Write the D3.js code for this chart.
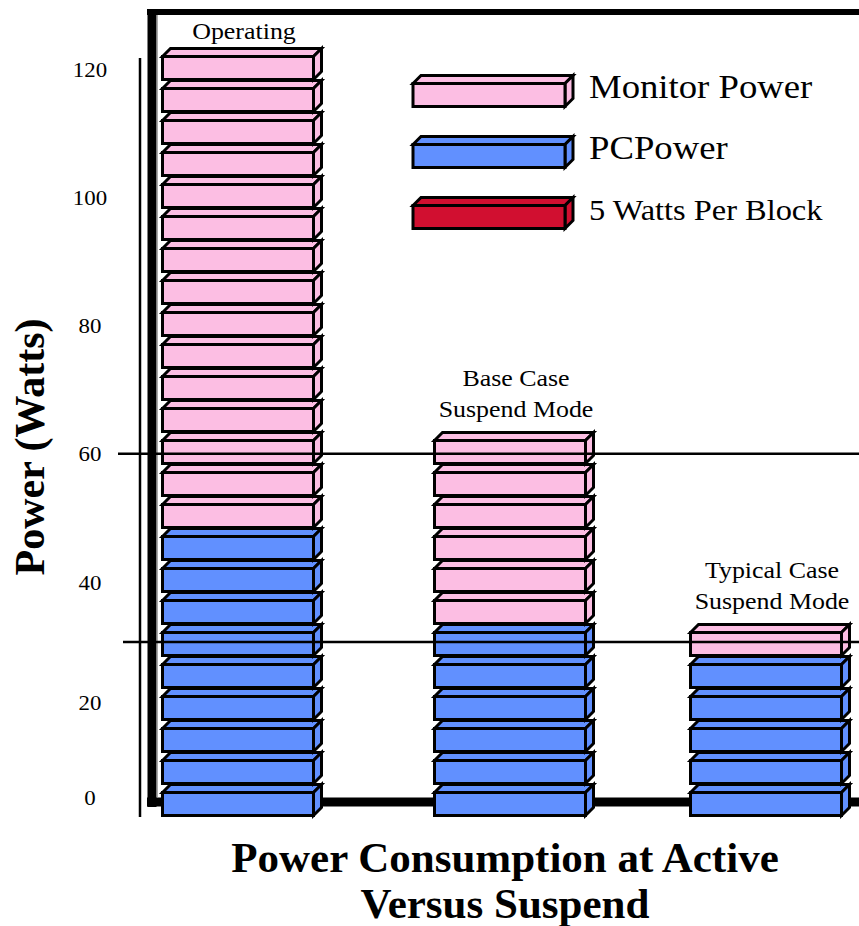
<!DOCTYPE html>
<html>
<head>
<meta charset="utf-8">
<script src="https://cdn.jsdelivr.net/npm/d3@7"></script>
<style>
  body { margin: 0; background: #fff; }
  text { font-family: "Liberation Serif", "Times New Roman", serif; fill: #000; }
</style>
</head>
<body>
<div id="chart"></div>
<script>
// chart values
const categories = ["Operating", "Base Case", "Typical Case"];
const categoryLines = [["Operating"], ["Base Case", "Suspend Mode"], ["Typical Case", "Suspend Mode"]];
const pcPower = [45, 30, 25];
const monitorPower = [75, 30, 5];
const wattsPerBlock = 5;
const tickValues = [0, 20, 40, 60, 80, 100, 120];
const referenceLines = [60, 30];
const legendLabels = ["Monitor Power", "PCPower", "5 Watts Per Block"];

const svgWidth = 859;
const svgHeight = 926;
const pink = "#fcbee3";
const blue = "#6190ff";
const red = "#d10f30";
const legendColors = [pink, blue, red];
// regular text in the picture is a bit wider than Liberation Serif
const widen = 1.08;

const svg = d3.select("#chart")
  .append("svg")
  .attr("width", svgWidth)
  .attr("height", svgHeight);

function wideText(g, x, y, str, size, anchor) {
  return g.append("text")
    .attr("transform", `translate(${x},${y}) scale(${widen},1)`)
    .attr("text-anchor", anchor)
    .attr("font-size", size)
    .text(str);
}

// scales
const x = d3.scaleOrdinal().domain(categories).range([238, 510, 766]);
const colWidth = 151;
const yBlock = d3.scaleLinear().domain([0, 120]).range([815.5, 47.5]);
// the tick labels on the original are not evenly spaced
const yLabel = d3.scaleLinear().domain([0, 20, 40, 120]).range([797, 702, 582, 69]);

const depth = 8;
const frontH = 23;

function drawBlock(g, x0, x1, yBot, fill) {
  const yTop = yBot - frontH;
  const b = g.append("g")
    .attr("fill", fill)
    .attr("stroke", "#000")
    .attr("stroke-width", 3)
    .attr("stroke-linejoin", "miter");
  b.append("path")
    .attr("d", `M${x0},${yTop}L${x0 + depth},${yTop - depth}L${x1 + depth},${yTop - depth}L${x1},${yTop}Z`);
  b.append("path")
    .attr("d", `M${x1},${yTop}L${x1 + depth},${yTop - depth}L${x1 + depth},${yBot - depth}L${x1},${yBot}Z`);
  b.append("rect")
    .attr("x", x0).attr("y", yTop)
    .attr("width", x1 - x0).attr("height", frontH);
}

// frame
const frame = svg.append("g").attr("stroke", "#000");
frame.append("line").attr("x1", 152).attr("x2", 152).attr("y1", 9).attr("y2", 807).attr("stroke-width", 9);
frame.append("line").attr("x1", 147).attr("x2", svgWidth).attr("y1", 12).attr("y2", 12).attr("stroke-width", 6);
frame.append("line").attr("x1", 147).attr("x2", svgWidth).attr("y1", 802).attr("y2", 802).attr("stroke-width", 9);
frame.append("line").attr("x1", 157.5).attr("x2", 157.5).attr("y1", 15).attr("y2", 797)
  .attr("stroke", "#aaa").attr("stroke-width", 1);

// thin axis line
svg.append("line")
  .attr("x1", 140).attr("x2", 140)
  .attr("y1", 58).attr("y2", 817)
  .attr("stroke", "#000").attr("stroke-width", 2.5);

// y axis labels
const yAxis = svg.append("g")
  .attr("transform", "translate(90,0)")
  .call(d3.axisLeft(yLabel).tickValues(tickValues).tickSize(0).tickPadding(0));
yAxis.select(".domain").remove();
yAxis.selectAll("text")
  .attr("x", 0)
  .attr("text-anchor", "middle")
  .attr("font-family", "Liberation Serif, Times New Roman, serif")
  .attr("font-size", 22)
  .attr("transform", "scale(1.04,1)");

// stacked blocks
categories.forEach((c, ci) => {
  const g = svg.append("g");
  const x0 = x(c) - colWidth / 2;
  const x1 = x(c) + colWidth / 2;
  const nPc = pcPower[ci] / wattsPerBlock;
  const nMon = monitorPower[ci] / wattsPerBlock;
  for (let i = 0; i < nPc + nMon; i++) {
    drawBlock(g, x0, x1, yBlock(i * wattsPerBlock), i < nPc ? blue : pink);
  }
  const top = yBlock(pcPower[ci] + monitorPower[ci]) + 1;
  const lastBase = Math.max(top - 16, 39);
  const lines = categoryLines[ci];
  lines.forEach((t, li) => {
    wideText(svg, x(c) + 6, lastBase - (lines.length - 1 - li) * 31, t, 24, "middle");
  });
});

// reference lines at the suspend totals
svg.selectAll(".ref")
  .data(referenceLines)
  .enter()
  .append("line")
  .attr("class", "ref")
  .attr("x1", (d, i) => i === 0 ? 118 : 123)
  .attr("x2", svgWidth)
  .attr("y1", d => yLabel(d))
  .attr("y2", d => yLabel(d))
  .attr("stroke", "#000")
  .attr("stroke-width", 2.5);

// legend
const legend = svg.append("g");
legendLabels.forEach((l, i) => {
  const cy = 95 + 61 * i;
  drawBlock(legend, 413, 565, cy + frontH / 2, legendColors[i]);
  wideText(legend, 589, cy + 3, l, i === 2 ? 30 : 34, "start");
});

// axis title
svg.append("text")
  .attr("transform", "translate(44,447) rotate(-90)")
  .attr("text-anchor", "middle")
  .attr("font-size", 42)
  .attr("font-weight", "bold")
  .text("Power (Watts)");

// chart title
const title = svg.append("text")
  .attr("text-anchor", "middle")
  .attr("font-size", 43)
  .attr("font-weight", "bold");
title.append("tspan").attr("x", 505).attr("y", 872).text("Power Consumption at Active");
title.append("tspan").attr("x", 505).attr("y", 918).text("Versus Suspend");
</script>
</body>
</html>
